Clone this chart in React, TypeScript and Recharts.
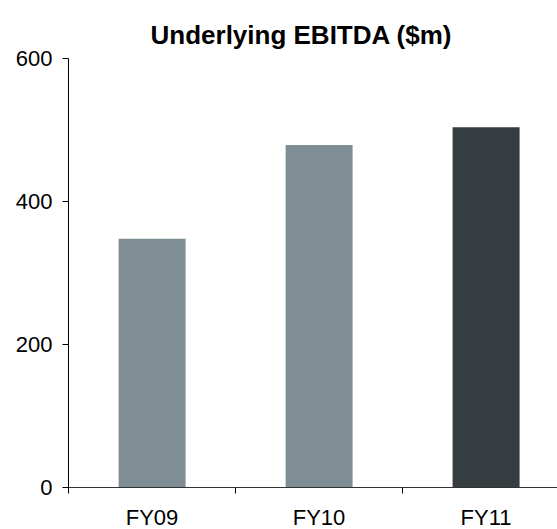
import { Bar, BarChart, Cell, XAxis, YAxis } from "recharts";

const years = ["FY09", "FY10", "FY11"];
const ebitda = [348, 479, 504];
const barColors = ["#7f8e94", "#7f8e94", "#353d40"];
const yTicks = [0, 200, 400, 600];

const data = years.map((year, i) => ({ year, value: ebitda[i] }));

const CHART_W = 580;
const CHART_H = 529;
const MARGIN = { top: 58.5, right: 10.5, left: 0.5, bottom: 1.5 };
const Y_AXIS_W = 68;
const FONT = "'Liberation Sans', Arial, sans-serif";

const plotWidth = CHART_W - MARGIN.left - MARGIN.right - Y_AXIS_W;
const halfBand = plotWidth / years.length / 2;

function CategoryTick(props: any) {
  const { x, y, payload } = props;
  const edge = x - halfBand;
  return (
    <g>
      <line x1={edge} x2={edge} y1={y} y2={y + 6} stroke="#000" strokeWidth={1} />
      <text
        x={x}
        y={y + 22}
        dy="0.71em"
        textAnchor="middle"
        fill="#000"
        fontSize={22}
        fontFamily={FONT}
      >
        {payload.value}
      </text>
    </g>
  );
}

export default function App() {
  return (
    <div
      style={{
        position: "fixed",
        left: 0,
        top: 0,
        width: 557,
        height: 529,
        overflow: "hidden",
        background: "#fff",
      }}
    >
      <div
        style={{
          position: "absolute",
          left: 0,
          top: 22,
          width: 602,
          textAlign: "center",
          fontFamily: FONT,
          fontWeight: 700,
          fontSize: 26,
          lineHeight: "26px",
          color: "#000",
          whiteSpace: "nowrap",
        }}
      >
        Underlying EBITDA ($m)
      </div>
      <BarChart
        width={CHART_W}
        height={CHART_H}
        data={data}
        margin={MARGIN}
        barCategoryGap="30%"
      >
        <XAxis
          dataKey="year"
          height={40}
          tickLine={false}
          tickSize={0}
          tickMargin={0}
          axisLine={{ stroke: "#333", strokeWidth: 1 }}
          tick={<CategoryTick />}
          interval={0}
        />
        <YAxis
          width={Y_AXIS_W}
          domain={[0, 600]}
          ticks={yTicks}
          tickSize={6}
          tickMargin={10}
          tickLine={{ stroke: "#000" }}
          axisLine={{ stroke: "#000" }}
          tick={{ fill: "#000", fontSize: 22, fontFamily: FONT }}
        />
        <Bar dataKey="value" isAnimationActive={false}>
          {data.map((d, i) => (
            <Cell key={d.year} fill={barColors[i]} />
          ))}
        </Bar>
      </BarChart>
    </div>
  );
}
